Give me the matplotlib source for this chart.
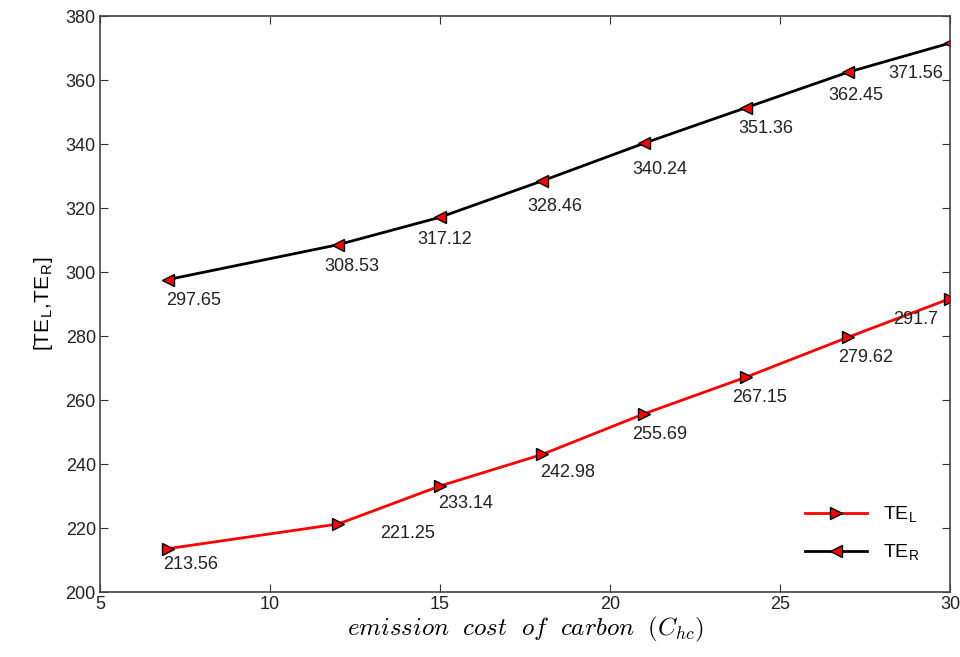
import matplotlib.pyplot as plt

# data
cost = [7, 12, 15, 18, 21, 24, 27, 30]
te_l = [213.56, 221.25, 233.14, 242.98, 255.69, 267.15, 279.62, 291.7]
te_r = [297.65, 308.53, 317.12, 328.46, 340.24, 351.36, 362.45, 371.56]
lab_l = ['213.56', '221.25', '233.14', '242.98', '255.69', '267.15', '279.62', '291.7']
lab_r = ['297.65', '308.53', '317.12', '328.46', '340.24', '351.36', '362.45', '371.56']

# label offsets in pixels (dx right, dy down)
off_l = [(23, 16), (70, 9), (26, 18), (26, 18), (16, 21), (14, 20), (18, 20), (-34, 21)]
off_r = [(26, 21), (14, 22), (5, 22), (13, 26), (16, 26), (20, 21), (8, 23), (-34, 30)]

plt.rcParams['font.family'] = ['Liberation Sans', 'DejaVu Sans']
plt.rcParams['mathtext.fontset'] = 'cm'

fig = plt.figure(figsize=(9.6, 6.57), dpi=100)
ax = fig.add_axes([0.1042, 0.0989, 0.8854, 0.8767])

ax.plot(cost, te_l, color='red', lw=2, marker='>', ms=8, mfc='red', mec='black',
        mew=1.0, label=r'TE$_\mathregular{L}$')
ax.plot(cost, te_r, color='black', lw=2, marker='<', ms=8, mfc='red', mec='black',
        mew=1.0, label=r'TE$_\mathregular{R}$')

for x, y, s, (dx, dy) in zip(cost, te_l, lab_l, off_l):
    ax.annotate(s, (x, y), xytext=(dx * 0.72, -dy * 0.72), textcoords='offset points',
                ha='center', va='center', fontsize=13, color='#222222')
for x, y, s, (dx, dy) in zip(cost, te_r, lab_r, off_r):
    ax.annotate(s, (x, y), xytext=(dx * 0.72, -dy * 0.72), textcoords='offset points',
                ha='center', va='center', fontsize=13, color='#222222')

ax.set_xlim(5, 30)
ax.set_ylim(200, 380)
ax.set_xticks([5, 10, 15, 20, 25, 30])
ax.set_yticks(range(200, 381, 20))
ax.tick_params(direction='in', top=True, right=True, labelsize=13, length=6,
               colors='#333333', labelcolor='#222222', pad=3)
for sp in ax.spines.values():
    sp.set_color('#444444')
    sp.set_linewidth(1.2)

ax.set_xlabel(r'$emission\ \ cost\ \ of\ \ carbon\ \ (C_{hc})$', fontsize=18, labelpad=1)
ax.set_ylabel(r'[TE$_\mathregular{L}$,TE$_\mathregular{R}$]', fontsize=15, labelpad=8)

ax.legend(loc='lower right', frameon=False, fontsize=14, handlelength=3.2,
          bbox_to_anchor=(0.985, 0.02), labelspacing=0.9)

fig.savefig('out.png', dpi=100)
